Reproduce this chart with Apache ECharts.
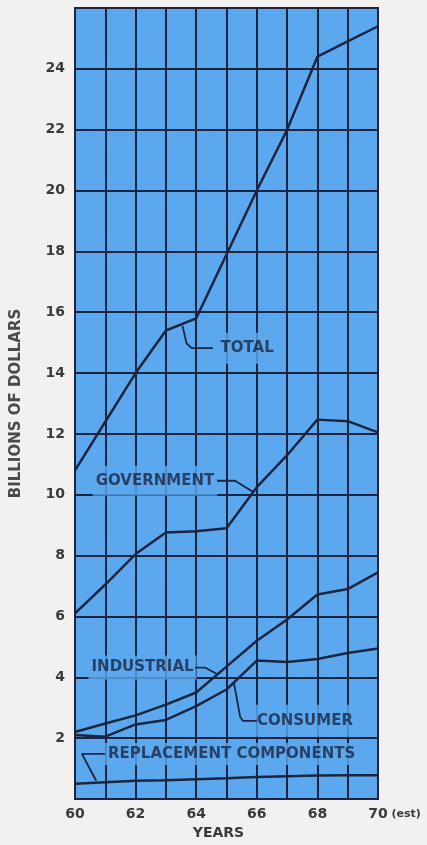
<!DOCTYPE html>
<html>
<head>
<meta charset="utf-8">
<script src="https://cdn.jsdelivr.net/npm/echarts@6/dist/echarts.min.js"></script>
<style>
  html, body { margin: 0; padding: 0; background: #f2f1ef; }
  #chart { width: 427px; height: 845px; }
</style>
</head>
<body>
<div id="chart"></div>
<script>
// ---- Data (billions of dollars) ----
const years = [60, 61, 62, 63, 64, 65, 66, 67, 68, 69, 70];
const total       = [10.8, 12.4, 14.0, 15.4, 15.8, 17.9, 20.0, 22.0, 24.4, 24.9, 25.4];
const government  = [6.1, 7.05, 8.05, 8.76, 8.8, 8.9, 10.25, 11.3, 12.47, 12.42, 12.05];
const industrial  = [2.2, 2.48, 2.75, 3.1, 3.5, 4.35, 5.2, 5.9, 6.72, 6.9, 7.45];
const consumer    = [2.1, 2.05, 2.45, 2.6, 3.05, 3.6, 4.55, 4.5, 4.6, 4.8, 4.95];
const replacement = [0.5, 0.55, 0.6, 0.62, 0.65, 0.68, 0.72, 0.75, 0.77, 0.78, 0.78];
const yTicks = [2, 4, 6, 8, 10, 12, 14, 16, 18, 20, 22, 24];
const xTickLabels = [60, 62, 64, 66, 68, 70];

// ---- Annotation labels (text placed in data space) ----
const labelNames = ['TOTAL', 'GOVERNMENT', 'INDUSTRIAL', 'CONSUMER', 'REPLACEMENT COMPONENTS'];
const labelAnchors = [[65.68, 14.82], [62.64, 10.46], [62.23, 4.32], [67.59, 2.57], [65.17, 1.48]];
const labelPads = [[10, 4, 6, 4], [11, 3, 4, 3], [8, 3, 1, 3], [8, 3, 9, 3], [5, 3, 2, 3]];
const leaders = [
  [[63.55, 15.55], [63.68, 14.98], [63.85, 14.82], [64.55, 14.82]],
  [[64.69, 10.46], [65.28, 10.46], [65.87, 10.1]],
  [[63.96, 4.32], [64.29, 4.32], [64.7, 4.1]],
  [[66.0, 2.57], [65.54, 2.57], [65.45, 2.7], [65.25, 3.8]],
  [[60.99, 1.48], [60.23, 1.48], [60.7, 0.6]]
];

const NAVY = '#1b2540';
const BLUE = '#5ca8ee';
const FONT = 'DejaVu Sans';

const toPairs = arr => years.map((y, i) => [y, arr[i]]);

const dataSeries = [total, government, industrial, consumer, replacement].map(arr => ({
  type: 'line',
  data: toPairs(arr),
  showSymbol: false,
  silent: true,
  z: 5,
  lineStyle: { color: NAVY, width: 2.5 },
  animation: false
}));

const leaderSeries = leaders.map(pts => ({
  type: 'line',
  data: pts,
  showSymbol: false,
  silent: true,
  z: 5,
  lineStyle: { color: NAVY, width: 1.8 },
  animation: false
}));

const labelSeries = {
  type: 'scatter',
  symbolSize: 0,
  silent: true,
  z: 3,
  animation: false,
  data: labelNames.map((n, i) => ({
    value: labelAnchors[i],
    label: {
      show: true,
      position: 'inside',
      formatter: n,
      color: NAVY,
      fontFamily: FONT,
      fontWeight: 'bold',
      fontSize: 15,
      backgroundColor: BLUE,
      padding: labelPads[i]
    }
  }))
};

const chart = echarts.init(document.getElementById('chart'), null, { renderer: 'canvas' });
chart.setOption({
  backgroundColor: '#f2f1ef',
  animation: false,
  grid: {
    left: 75, right: 49, top: 8, bottom: 43,
    show: true,
    backgroundColor: BLUE,
    borderColor: NAVY,
    borderWidth: 2
  },
  xAxis: {
    type: 'value',
    min: 60, max: 70, interval: 1,
    name: 'YEARS',
    nameLocation: 'middle',
    nameGap: 27,
    nameTextStyle: { fontFamily: FONT, fontWeight: 'bold', fontSize: 14, color: '#3a3a3a', padding: [0, 16, 0, 0] },
    axisLine: { show: false },
    axisTick: { show: false },
    splitLine: { show: true, lineStyle: { color: NAVY, width: 2 } },
    axisLabel: {
      margin: 8,
      fontFamily: FONT, fontWeight: 'bold', fontSize: 14, color: '#3a3a3a',
      formatter: v => {
        if (xTickLabels.indexOf(v) < 0) return '';
        if (v === 70) return '{s| }{n|70}{e| (est)}';
        return String(v);
      },
      rich: {
        s: { width: 33 },
        n: { fontFamily: FONT, fontWeight: 'bold', fontSize: 14, color: '#3a3a3a' },
        e: { fontFamily: FONT, fontWeight: 'bold', fontSize: 11, color: '#3a3a3a' }
      }
    }
  },
  yAxis: {
    type: 'value',
    min: 0, max: 26, interval: 2,
    name: 'BILLIONS OF DOLLARS',
    nameLocation: 'middle',
    nameGap: 51,
    nameTextStyle: { fontFamily: FONT, fontWeight: 'bold', fontSize: 15, color: '#4a4a4a' },
    axisLine: { show: false },
    axisTick: { show: false },
    splitLine: { show: true, lineStyle: { color: NAVY, width: 2 } },
    axisLabel: {
      margin: 10,
      fontFamily: FONT, fontWeight: 'bold', fontSize: 14, color: '#3a3a3a',
      formatter: v => (yTicks.indexOf(v) >= 0 ? String(v) : '')
    }
  },
  series: [...dataSeries, ...leaderSeries, labelSeries]
});
</script>
</body>
</html>
